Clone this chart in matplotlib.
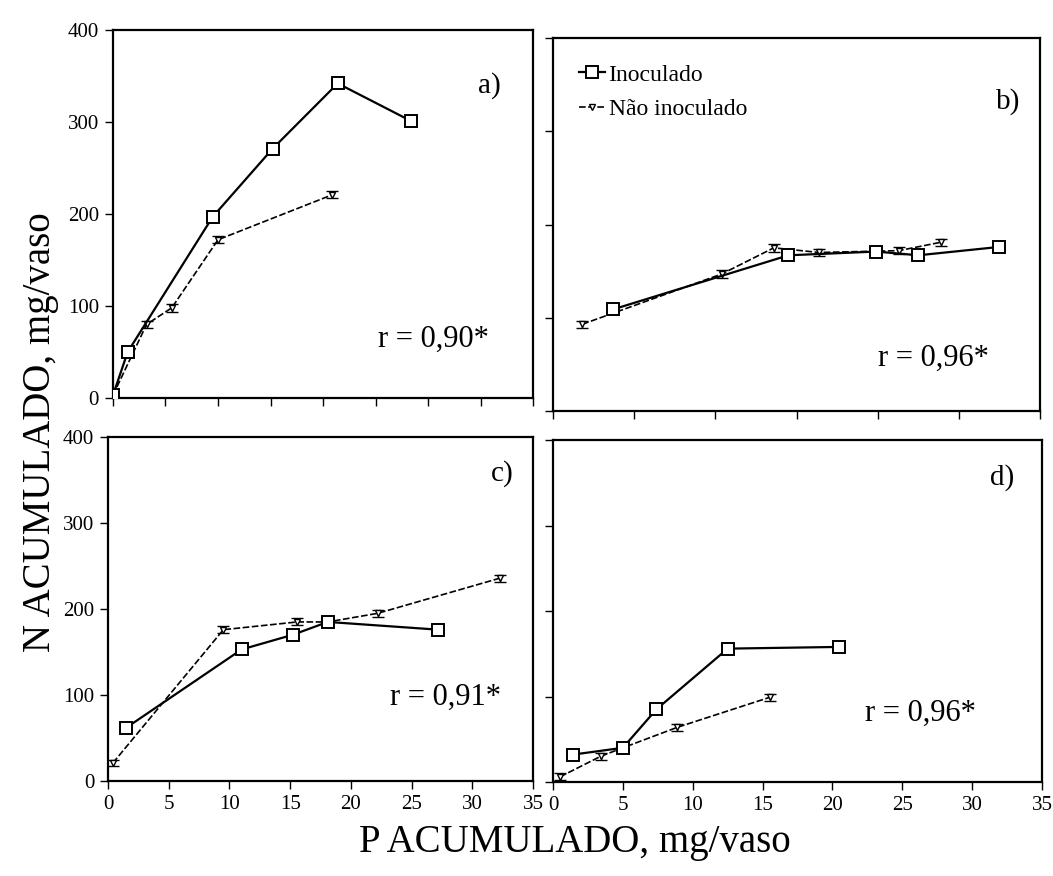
import matplotlib
matplotlib.use("Agg")
import matplotlib.pyplot as plt
from matplotlib.lines import Line2D

plt.rcParams['font.family'] = ['Liberation Serif', 'DejaVu Serif']

# panel a)
a_inoc_x = [0, 1.4, 9.5, 15.2, 21.4, 28.4]
a_inoc_y = [3, 50, 197, 271, 342, 301]
a_non_x = [0, 3.2, 5.6, 10.0, 20.9]
a_non_y = [3, 80, 98, 172, 221]

# panel b)
b_inoc_x = [3.7, 14.5, 19.9, 22.5, 27.5]
b_inoc_y = [109, 167, 171, 167, 176]
b_non_x = [1.8, 10.4, 13.6, 16.4, 21.3, 23.9]
b_non_y = [93, 147, 175, 170, 172, 181]

# panel c)
c_inoc_x = [1.5, 11.0, 15.2, 18.1, 27.2]
c_inoc_y = [62, 153, 170, 185, 176]
c_non_x = [0.4, 9.5, 15.6, 18.1, 22.2, 32.3]
c_non_y = [21, 176, 185, 185, 195, 236]

# panel d)
d_inoc_x = [1.4, 5.0, 7.4, 12.5, 20.5]
d_inoc_y = [32, 40, 85, 156, 158]
d_non_x = [0.5, 3.4, 5.0, 8.9, 15.5]
d_non_y = [6, 30, 40, 64, 99]

err = 4  # small standard error bars

panels = [
    ("a)", "r = 0,90*", a_inoc_x, a_inoc_y, a_non_x, a_non_y),
    ("b)", "r = 0,96*", b_inoc_x, b_inoc_y, b_non_x, b_non_y),
    ("c)", "r = 0,91*", c_inoc_x, c_inoc_y, c_non_x, c_non_y),
    ("d)", "r = 0,96*", d_inoc_x, d_inoc_y, d_non_x, d_non_y),
]

# axes boxes (left, bottom, width, height) in figure fraction
boxes = [
    [0.1073, 0.5457, 0.3989, 0.4200],
    [0.5252, 0.5308, 0.4625, 0.4258],
    [0.1026, 0.1084, 0.4036, 0.3927],
    [0.5252, 0.1073, 0.4644, 0.3904],
]
xlims = [(0, 40), (0, 30), (0, 35), (0, 35)]
label_pos = [(0.87, 0.85), (0.91, 0.83), (0.90, 0.895), (0.894, 0.89)]
r_pos = [(0.63, 0.16), (0.667, 0.14), (0.663, 0.244), (0.638, 0.20)]

non_ls = (0, (4, 1.5))

fig = plt.figure(figsize=(10.53, 8.76), dpi=100)

for i, (lab, rtxt, xi, yi, xn, yn) in enumerate(panels):
    ax = fig.add_axes(boxes[i])
    ax.errorbar(xn, yn, yerr=err, color='k', lw=1.2, ls=non_ls,
                marker='v', ms=5, mfc='white', mec='k', capsize=4,
                elinewidth=1, zorder=2)
    ax.errorbar(xi, yi, yerr=err, color='k', lw=1.6, ls='-',
                marker='s', ms=9, mfc='white', mec='k', mew=1.4, capsize=5,
                elinewidth=1, zorder=3)
    ax.set_xlim(*xlims[i])
    ax.set_ylim(0, 400)
    ax.set_xticks(range(0, xlims[i][1] + 1, 5))
    ax.set_yticks([0, 100, 200, 300, 400])
    ax.tick_params(direction='out', length=6, width=1, labelsize=15, pad=4)
    if i in (1, 3):
        ax.set_yticklabels([])
    if i in (0, 1):
        ax.set_xticklabels([])
    for s in ax.spines.values():
        s.set_linewidth(1.6)
    ax.text(label_pos[i][0], label_pos[i][1], lab, transform=ax.transAxes,
            fontsize=21, va='center', ha='left')
    ax.text(r_pos[i][0], r_pos[i][1], rtxt, transform=ax.transAxes,
            fontsize=22, va='center', ha='left')
    if i == 1:
        h = [Line2D([], [], color='k', lw=1.6, marker='s', ms=8,
                    mfc='white', mec='k', mew=1.4),
             Line2D([], [], color='k', lw=1.2, ls=non_ls, marker='v', ms=5,
                    mfc='white', mec='k')]
        ax.legend(h, ['Inoculado', 'Não inoculado'], loc='upper left',
                  frameon=False, fontsize=17, handlelength=1.1,
                  handletextpad=0.15, borderaxespad=0.5, labelspacing=0.55,
                  borderpad=0.6)

fig.text(0.546, 0.038, "P ACUMULADO, mg/vaso", fontsize=28,
         ha='center', va='center')
fig.text(0.038, 0.507, "N ACUMULADO, mg/vaso", fontsize=28,
         ha='center', va='center', rotation=90)

fig.savefig("out.png", dpi=100)
